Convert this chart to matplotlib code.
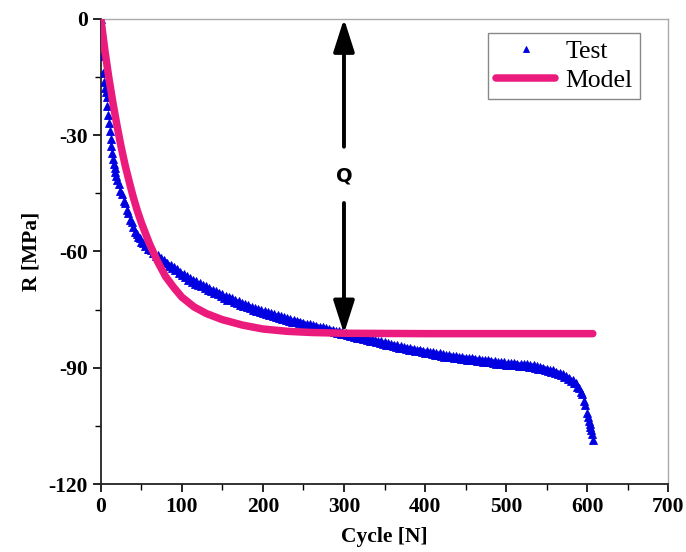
import matplotlib.pyplot as plt
from matplotlib.ticker import MultipleLocator
from matplotlib.patches import FancyArrowPatch

plt.rcParams['font.family'] = ['Liberation Serif', 'DejaVu Serif']
plt.rcParams['axes.unicode_minus'] = False

# measured hardening curve (cycle number vs. R)
test_cycles = list(range(0, 21)) + list(range(22, 601, 2)) + list(range(601, 608))
test_R = [
    0.0, -4.5, -9.5, -14.0, -16.2, -17.8, -19.0, -20.3, -22.6, -24.8,
    -27.0, -29.0, -31.0, -32.9, -34.6, -36.1, -37.4, -38.5, -39.6, -40.6,
    -41.5,
    -42.6, -44.3, -45.2, -46.9, -47.6, -49.2, -50.0, -51.8, -52.3, -53.7,
    -54.9, -55.5, -56.4, -56.5, -57.6, -57.8, -58.6, -58.3, -59.4, -59.5,
    -59.6, -60.5, -60.3, -61.3, -60.9, -61.8, -61.6, -62.6, -62.2, -63.1,
    -62.9, -63.8, -63.4, -64.3, -64.0, -64.9, -64.6, -65.5, -65.2, -66.2,
    -65.8, -66.6, -66.4, -67.3, -66.8, -67.8, -67.3, -68.3, -67.7, -68.6,
    -68.1, -69.0, -68.6, -69.5, -68.9, -70.0, -69.4, -70.3, -69.9, -70.8,
    -70.2, -71.0, -70.8, -71.6, -71.0, -71.9, -71.5, -72.4, -71.8, -72.6,
    -72.1, -73.0, -72.5, -73.3, -72.8, -73.7, -73.2, -74.0, -73.5, -74.3,
    -73.8, -74.6, -74.2, -75.0, -74.5, -75.3, -74.8, -75.6, -75.0, -75.8,
    -75.3, -76.1, -75.6, -76.3, -75.8, -76.6, -76.1, -76.9, -76.3, -77.1,
    -76.6, -77.4, -76.9, -77.6, -77.1, -77.9, -77.4, -78.1, -77.6, -78.3,
    -77.9, -78.5, -78.1, -78.8, -78.4, -79.0, -78.6, -79.2, -78.8, -79.4,
    -79.0, -79.6, -79.2, -79.8, -79.4, -80.0, -79.6, -80.2, -79.8, -80.4,
    -80.0, -80.6, -80.2, -80.8, -80.4, -81.0, -80.6, -81.2, -80.8, -81.4,
    -81.0, -81.6, -81.2, -81.8, -81.4, -82.0, -81.6, -82.2, -81.8, -82.4,
    -82.0, -82.6, -82.2, -82.8, -82.4, -83.0, -82.6, -83.2, -82.8, -83.4,
    -83.0, -83.6, -83.2, -83.8, -83.4, -84.0, -83.6, -84.2, -83.8, -84.4,
    -84.0, -84.6, -84.2, -84.8, -84.4, -85.0, -84.6, -85.2, -84.8, -85.3,
    -84.9, -85.5, -85.1, -85.7, -85.3, -85.8, -85.4, -86.0, -85.6, -86.1,
    -85.7, -86.3, -85.9, -86.5, -86.0, -86.6, -86.2, -86.8, -86.3, -86.9,
    -86.5, -87.1, -86.6, -87.2, -86.8, -87.3, -86.9, -87.5, -87.0, -87.6,
    -87.1, -87.7, -87.2, -87.8, -87.4, -87.9, -87.5, -88.0, -87.6, -88.1,
    -87.7, -88.2, -87.8, -88.3, -87.9, -88.4, -88.0, -88.5, -88.1, -88.6,
    -88.2, -88.7, -88.3, -88.9, -88.4, -89.0, -88.5, -89.1, -88.6, -89.2,
    -88.7, -89.3, -88.8, -89.4, -88.8, -89.4, -88.9, -89.5, -88.9, -89.5,
    -89.0, -89.6, -89.1, -89.7, -89.2, -89.8, -89.4, -90.0, -89.6, -90.2,
    -89.8, -90.4, -90.0, -90.6, -90.2, -90.9, -90.5, -91.1, -90.7, -91.3,
    -91.0, -91.6, -91.3, -91.9, -91.7, -92.3, -92.1, -92.8, -92.6, -93.3,
    -93.2, -94.0, -94.0, -94.9, -95.1, -96.3, -96.8, -98.5, -99.6, -101.6,
    -102.7, -103.6, -104.5, -105.3, -106.1, -107.0, -108.6,
]

# fitted model curve
model_cycles = [0, 5, 10, 15, 20, 25, 30, 35, 40, 45, 50, 60, 70, 80, 90,
                100, 115, 130, 150, 175, 200, 230, 260, 300, 400, 500, 607]
model_R = [0.0, -8.2, -15.4, -21.8, -27.6, -33.0, -37.8, -42.0, -46.0, -49.5,
           -52.6, -58.0, -62.6, -66.5, -69.3, -71.8, -74.3, -76.0, -77.6,
           -79.0, -80.0, -80.6, -80.9, -81.1, -81.2, -81.2, -81.2]

Q_cycle = 300
Q_value = -81.2

fig = plt.figure(figsize=(6.86, 5.52), dpi=100)
ax = fig.add_axes([0.147, 0.123, 0.827, 0.843])

ax.plot(test_cycles, test_R, linestyle='none', marker='^', markersize=5.8,
        color='#0000E0', markeredgewidth=0.6, label='Test', zorder=3)
ax.plot(model_cycles, model_R, color='#EB1A7D', linewidth=5.4,
        solid_capstyle='round', label='Model', zorder=4)

# Q arrows
arrow_kw = dict(arrowstyle='-|>,head_length=1.0,head_width=0.32',
                mutation_scale=20, color='black', linewidth=2.8,
                shrinkA=0, shrinkB=0, zorder=5)
ax.add_patch(FancyArrowPatch((Q_cycle, -33), (Q_cycle, 0), **arrow_kw))
ax.add_patch(FancyArrowPatch((Q_cycle, -47.5), (Q_cycle, Q_value), **arrow_kw))
ax.text(Q_cycle, -40.5, 'Q', ha='center', va='center', fontsize=14,
        fontweight='bold', family='DejaVu Sans', zorder=6)

ax.set_xlim(0, 700)
ax.set_ylim(-120, 0)
ax.xaxis.set_major_locator(MultipleLocator(100))
ax.xaxis.set_minor_locator(MultipleLocator(50))
ax.yaxis.set_major_locator(MultipleLocator(30))
ax.yaxis.set_minor_locator(MultipleLocator(15))

for side in ['left', 'bottom']:
    ax.spines[side].set_linewidth(1.3)
    ax.spines[side].set_color('#222222')
for side in ['top', 'right']:
    ax.spines[side].set_linewidth(1.0)
    ax.spines[side].set_color('#AAAAAA')

ax.tick_params(which='major', direction='out', length=6, width=1.2,
               labelsize=15.5, top=False, right=False)
ax.tick_params(which='minor', direction='out', length=4, width=1.0,
               top=False, right=False)
for lab in ax.get_xticklabels() + ax.get_yticklabels():
    lab.set_fontweight('bold')

ax.set_xlabel('Cycle [N]', fontsize=15.5, fontweight='bold', labelpad=7)
ax.set_ylabel('R [MPa]', fontsize=15.5, fontweight='bold', labelpad=5)

leg = ax.legend(loc='upper right', bbox_to_anchor=(0.951, 0.970),
                borderaxespad=0, fontsize=18.5, numpoints=1, fancybox=False,
                framealpha=1, edgecolor='#888888', handlelength=2.3,
                handletextpad=0.4, borderpad=0.3, labelspacing=0.2,
                markerscale=0.65)
leg.get_frame().set_linewidth(1.0)

fig.savefig('out.png', dpi=100)
